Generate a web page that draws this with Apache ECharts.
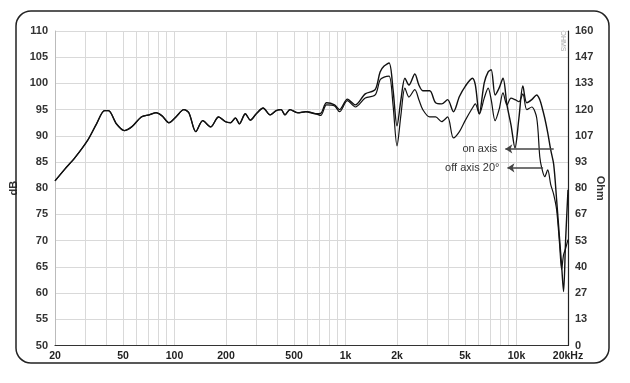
<!DOCTYPE html>
<html><head><meta charset="utf-8">
<script src="https://cdn.jsdelivr.net/npm/echarts@6/dist/echarts.min.js"></script>
<style>html,body{margin:0;padding:0;background:#fff}#c{width:630px;height:383px}</style>
</head><body><div id="c"></div>
<script>
const freqs = [20,22.9,26.1,31.1,35,39,41.1,45.7,50.9,56.6,
  63.9,71.1,78,84.6,92.8,101.9,113.4,121.3,133.2,146.2,
  162.6,181,198.6,212.4,227.1,239.4,259.5,277.4,300.6,329.7,
  362.2,392.5,419.7,442.6,473.1,526.1,586.2,669.9,716.2,774.9,
  863,922.5,1026,1142,1304,1490,1593,1681,1798,1896,
  2000,2109,2225,2349,2542,2685,2831,3106,3365,3648,
  3953,4276,4635,5024,5521,5743,6058,6474,6825,7109,
  7496,7906,8337,8792,9281,9794,10330,10892,11484,12277,
  13125,13677,14035,14620,15220,15850,16500,17160,17870,18340,
  18840,19360,20000];
const onAxisDb = [81.4,83.7,85.8,89.2,92.3,94.8,94.8,92.3,91.0,91.8,
  93.6,94.0,94.4,93.8,92.5,93.6,95.0,94.4,90.8,92.9,
  91.7,93.6,92.7,92.5,93.4,92.3,94.2,93.0,94.2,95.3,
  94.0,94.8,95.0,94.0,95.0,94.4,94.6,94.2,94.3,96.3,
  95.9,95.0,97.0,95.9,98.0,98.8,102.2,103.3,103.9,98.8,
  91.9,96.9,101.0,99.7,101.8,99.7,98.6,98.6,96.3,96.1,
  96.9,94.6,97.5,99.5,101.0,99.7,94.2,100.1,102.2,102.6,
  97.8,99.1,101.0,95.9,92.1,87.7,93.4,99.5,96.3,96.9,
  97.8,96.9,95.7,93.4,90.6,87.3,84.5,77.8,70.2,65.4,
  60.3,70.0,79.7];
const offAxisDb = [81.4,83.7,85.8,89.2,92.3,94.8,94.8,92.3,91.0,91.8,
  93.6,94.0,94.4,93.8,92.5,93.6,95.0,94.4,90.8,92.9,
  91.7,93.6,92.7,92.5,93.4,92.3,94.2,93.0,94.2,95.3,
  94.0,94.8,95.0,94.0,95.0,94.4,94.6,94.2,93.9,95.9,
  95.7,94.6,96.7,95.5,97.2,97.8,100.7,101.2,101.4,95.9,
  88.1,94.0,99.1,97.4,98.8,96.9,95.0,93.6,93.6,92.7,
  93.6,89.6,90.8,93.0,95.3,96.1,94.2,97.2,99.1,96.9,
  92.9,95.0,98.2,95.9,97.2,96.9,96.5,98.0,95.0,95.5,
  93.4,86.0,83.9,82.2,83.5,80.7,78.8,75.9,69.2,64.5,
  67.3,68.5,70.2];
const xGridValues = [20,30,40,50,60,70,80,90,100,200,300,400,500,600,700,800,900,
  1000,2000,3000,4000,5000,6000,7000,8000,9000,10000,20000];
const xTickValues = [20,50,100,200,500,1000,2000,5000,10000,20000];
const xTickLabels = ['20','50','100','200','500','1k','2k','5k','10k','20kHz'];
const ohmLabels = ['0','13','27','40','53','67','80','93','107','120','133','147','160'];
const onArrow = [8600, 16500, 87.5];   // from freq, to freq, dB
const offArrow = [8850, 14300, 83.9];

const chart = echarts.init(document.getElementById('c'), null, {renderer:'canvas'});
const lab = v => {
  let best = 0, bd = Infinity;
  xTickValues.forEach((t,i)=>{const d=Math.abs(Math.log10(t)-Math.log10(v)); if(d<bd){bd=d;best=i;}});
  return xTickLabels[best];
};
const font = 'Liberation Sans, Arial, sans-serif';
const zip = arr => freqs.map((f,i)=>[f, arr[i]]);
function arrowLine(a, text) {
  return {
    silent: true, symbol: ['arrow','none'], symbolSize: 7, animation:false,
    lineStyle: {color:'#444', width:1.5, type:'solid'},
    label: {show:true, position:'start', formatter:text, color:'#333', fontSize:11, fontFamily:font, distance:8},
    data: [[{coord:[a[0], a[2]]}, {coord:[a[1], a[2]]}]]
  };
}
chart.setOption({
  animation:false,
  grid:{left:50, right:62, top:31, bottom:37.5},
  xAxis:{type:'log', logBase:10, min:20, max:20000,
    axisLine:{show:true, lineStyle:{color:'#333', width:1.2}},
    axisTick:{show:false, customValues:xGridValues},
    axisLabel:{customValues:xTickValues, formatter:v=>lab(v), fontWeight:'bold', fontSize:10.5, color:'#222', margin:5, fontFamily:font},
    splitLine:{show:true, lineStyle:{color:'#d9d9d9', width:1}}
  },
  yAxis:[
    {type:'value', min:50, max:110, interval:5, position:'left',
     axisLine:{show:true, lineStyle:{color:'#bbb'}}, axisTick:{show:false},
     axisLabel:{fontWeight:'bold', fontSize:11, color:'#333', margin:7, fontFamily:font},
     splitLine:{show:true, lineStyle:{color:'#d9d9d9', width:1}},
     name:'dB', nameLocation:'middle', nameGap:36, nameRotate:90, nameMoveOverlap:false,
     nameTextStyle:{fontWeight:'bold', fontSize:11, color:'#333', fontFamily:font}},
    {type:'value', min:0, max:160, interval:160/12, position:'right',
     axisLine:{show:true, lineStyle:{color:'#222', width:1.2}}, axisTick:{show:false},
     axisLabel:{fontWeight:'bold', fontSize:11, color:'#333', margin:7, fontFamily:font,
       formatter:(v,i)=>ohmLabels[i] !== undefined ? ohmLabels[i] : String(Math.round(v))},
     splitLine:{show:false},
     name:'Ohm', nameLocation:'middle', nameGap:27, nameRotate:-90, nameMoveOverlap:false,
     nameTextStyle:{fontWeight:'bold', fontSize:11, color:'#333', fontFamily:font}}
  ],
  graphic:[
    {type:'rect', shape:{x:16, y:11, width:593, height:352, r:15}, style:{fill:'none', stroke:'#222', lineWidth:1.5}, z:10},
    {type:'text', x:563, y:41, rotation:-Math.PI/2, style:{text:'OHMS', fontSize:7, fill:'#aaa', align:'center', verticalAlign:'middle', fontFamily:font}}
  ],
  series:[
    {name:'off axis 20°', type:'line', data:zip(offAxisDb), showSymbol:false, smooth:0.3,
     lineStyle:{color:'#111', width:1.2}, z:3, markLine:arrowLine(offArrow, 'off axis 20°')},
    {name:'on axis', type:'line', data:zip(onAxisDb), showSymbol:false, smooth:0.3,
     lineStyle:{color:'#111', width:1.4}, z:4, markLine:arrowLine(onArrow, 'on axis')}
  ]
});
</script></body></html>
